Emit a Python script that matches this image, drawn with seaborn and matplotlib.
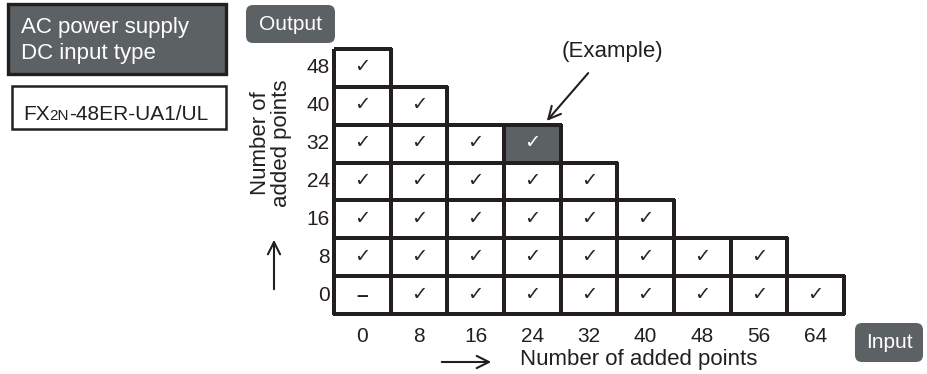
import matplotlib
matplotlib.use('Agg')
import matplotlib.pyplot as plt
from matplotlib.colors import ListedColormap, to_rgba
from matplotlib.patches import FancyBboxPatch, Rectangle
import numpy as np
import pandas as pd
import seaborn as sns

inputs = [0, 8, 16, 24, 32, 40, 48, 56, 64]
outputs = [48, 40, 32, 24, 16, 8, 0]
# how many input columns are allowed for each output row (top to bottom)
cells_per_row = [1, 2, 4, 5, 6, 8, 9]
example = (32, 24)   # (output, input) highlighted cell
none_cell = (0, 0)   # cell shown with a dash

sns.set_theme(style='white')
plt.rcParams['font.family'] = ['Liberation Sans', 'DejaVu Sans']
plt.rcParams['text.color'] = '#231f20'

DARK = '#5c6163'
INK = '#231f20'
W, H = 927, 374
fig = plt.figure(figsize=(W / 100, H / 100), dpi=100)


# pixel helpers (origin top-left) -> inches for dpi_scale_trans
def ix(px):
    return px / 100


def iy(py):
    return (H - py) / 100


ax = fig.add_axes([334 / W, 1 - 314 / H, (844 - 334) / W, (314 - 49) / H])

shade = pd.DataFrame(0, index=outputs, columns=inputs)
shade.loc[example] = 1
mask = pd.DataFrame([[j >= n for j in range(len(inputs))] for n in cells_per_row],
                    index=outputs, columns=inputs)
labels = np.where(mask.values, '', '✓').astype(object)
labels[outputs.index(none_cell[0]), inputs.index(none_cell[1])] = '–'

sns.heatmap(shade, mask=mask, cmap=ListedColormap(['white', DARK]), vmin=0, vmax=1,
            cbar=False, annot=labels, fmt='', annot_kws={'fontsize': 14},
            linewidths=1.6, linecolor=INK, ax=ax)
mesh = ax.collections[0]
mesh.set_clip_on(False)
# only outline the cells that exist
mesh.set_edgecolor([(0, 0, 0, 0) if m else to_rgba(INK) for m in mask.values.ravel()])
for t in ax.texts:
    if t.get_text() == '–':
        t.set_fontsize(15)
        t.set_fontweight('bold')
        t.set_color(INK)

ax.tick_params(length=0, labelsize=15, colors=INK)
ax.tick_params(axis='x', pad=9)
ax.tick_params(axis='y', pad=3)
plt.setp(ax.get_yticklabels(), rotation=0)

ax.set_xlabel('Number of added points', fontsize=16, color=INK)
ax.xaxis.set_label_coords((639 - 334) / 510, (314 - 360) / 265)
ax.xaxis.label.set_verticalalignment('center')
ax.set_ylabel('Number of\nadded points', fontsize=16, color=INK, linespacing=1.0)
ax.yaxis.set_label_coords((271 - 334) / 510, (314 - 143) / 265)
ax.yaxis.label.set_verticalalignment('center')

# arrows
arrow = dict(arrowstyle='->', lw=1.5, color=INK, mutation_scale=22)
for start, end in [((274, 292), (274, 237)), ((439, 362), (494, 362)), ((590, 71), (545, 123))]:
    ax.annotate('', xy=(ix(end[0]), iy(end[1])), xytext=(ix(start[0]), iy(start[1])),
                xycoords=fig.dpi_scale_trans, textcoords=fig.dpi_scale_trans,
                arrowprops=arrow, annotation_clip=False)
fig.text(ix(612), iy(52), '(Example)', fontsize=16, ha='center', va='center',
         transform=fig.dpi_scale_trans)

# header boxes
fig.add_artist(Rectangle((ix(8), iy(74)), ix(226 - 8), ix(74 - 4), transform=fig.dpi_scale_trans,
                         facecolor=DARK, edgecolor=INK, lw=2.4))
fig.text(ix(21), iy(27), 'AC power supply', fontsize=16, color='white', va='center',
         transform=fig.dpi_scale_trans)
fig.text(ix(21), iy(53), 'DC input type', fontsize=16, color='white', va='center',
         transform=fig.dpi_scale_trans)

fig.add_artist(Rectangle((ix(12), iy(129)), ix(226 - 12), ix(129 - 86), transform=fig.dpi_scale_trans,
                         facecolor='white', edgecolor=INK, lw=1.8))
renderer = fig.canvas.get_renderer()
x = ix(23)
for part, size in [('FX', 15), ('2N', 11), ('-48ER-UA1/UL', 15)]:
    t = fig.text(x, iy(120), part, fontsize=size, va='baseline', transform=fig.dpi_scale_trans)
    x = t.get_window_extent(renderer).x1 / 100

for label, (x0, y0, x1, y1) in [('Output', (246, 5, 335, 43)), ('Input', (855, 323, 923, 362))]:
    fig.add_artist(FancyBboxPatch((ix(x0), iy(y1)), ix(x1 - x0), ix(y1 - y0),
                                  boxstyle='round,pad=0,rounding_size=0.07',
                                  transform=fig.dpi_scale_trans, facecolor=DARK, edgecolor='none'))
    fig.text(ix((x0 + x1) / 2), iy((y0 + y1) / 2), label, fontsize=15, color='white',
             ha='center', va='center', transform=fig.dpi_scale_trans)

fig.savefig('out.png', dpi=100)
